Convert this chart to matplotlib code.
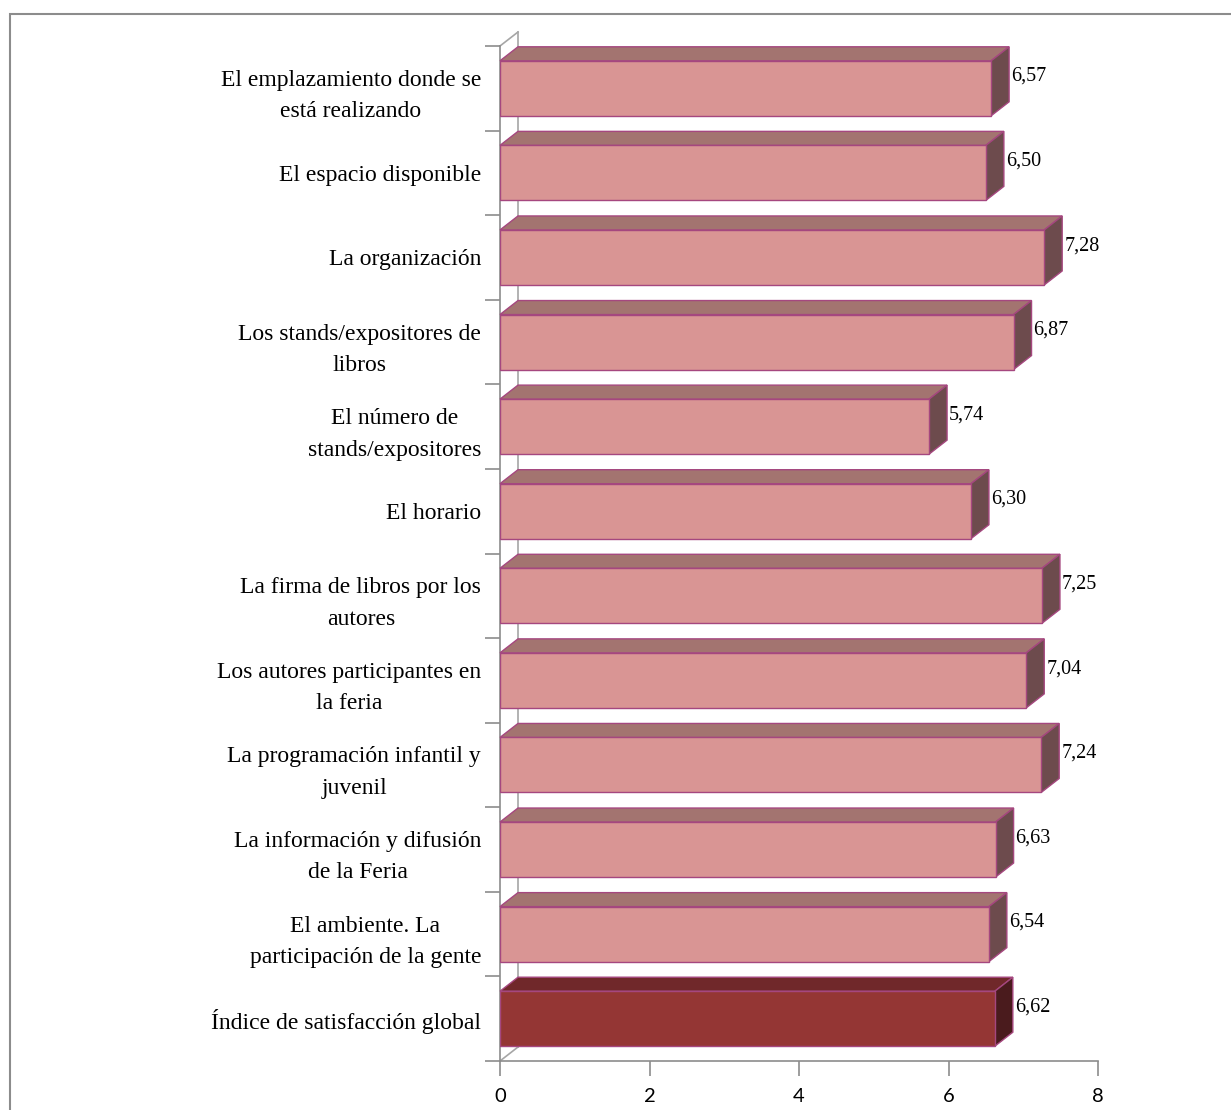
import matplotlib
matplotlib.use("Agg")
import matplotlib.pyplot as plt
from matplotlib.patches import Polygon, Rectangle
from matplotlib.lines import Line2D

categories = [
    "El emplazamiento donde se\nestá realizando",
    "El espacio disponible",
    "La organización",
    "Los stands/expositores de\nlibros",
    "El número de\nstands/expositores",
    "El horario",
    "La firma de libros por los\nautores",
    "Los autores participantes en\nla feria",
    "La programación infantil y\njuvenil",
    "La información y difusión\nde la Feria",
    "El ambiente. La\nparticipación de la gente",
    "Índice de satisfacción global",
]
values = [6.57, 6.50, 7.28, 6.87, 5.74, 6.30, 7.25, 7.04, 7.24, 6.63, 6.54, 6.62]
value_labels = ["6,57", "6,50", "7,28", "6,87", "5,74", "6,30", "7,25", "7,04", "7,24", "6,63", "6,54", "6,62"]
xticks = [0, 2, 4, 6, 8]

W, H = 1231, 1110
fig = plt.figure(figsize=(W / 100, H / 100), dpi=100)
fig.patch.set_facecolor("white")

# axes = front plane
x0, x1 = 500, 1098
y_top, y_bot = 46, 1061
ax = fig.add_axes([x0 / W, 1 - y_bot / H, (x1 - x0) / W, (y_bot - y_top) / H])
n = len(categories)
ax.set_xlim(0, 8)
ax.set_ylim(n - 0.5, -0.5)

# depth in pixels -> data units
dx_px, dy_px = 18, 14
px_per_x = (x1 - x0) / 8.0
px_per_y = (y_bot - y_top) / n
dx = dx_px / px_per_x
dy = -dy_px / px_per_y

bar_h = 55 / px_per_y
edge_col = "#A5477F"
normal = ("#D99594", "#A37470", "#6D4B4D")
highlight = ("#943634", "#70282A", "#4A1B1D")

for i, v in enumerate(values):
    front, top, side = highlight if i == n - 1 else normal
    t = i - bar_h / 2
    b = i + bar_h / 2
    ax.barh(i, v, height=bar_h, color=front, edgecolor=edge_col, linewidth=1.0, zorder=3)
    ax.add_patch(Polygon([(0, t), (v, t), (v + dx, t + dy), (dx, t + dy)],
                         closed=True, facecolor=top, edgecolor=edge_col, lw=1.0,
                         zorder=2.9, clip_on=False))
    ax.add_patch(Polygon([(v, t), (v, b), (v + dx, b + dy), (v + dx, t + dy)],
                         closed=True, facecolor=side, edgecolor=edge_col, lw=1.0,
                         zorder=2.9, clip_on=False))
    ax.annotate(value_labels[i], xy=(v, i), xytext=(14.4, 8.5),
                textcoords="offset points", ha="left", va="center",
                fontsize=14.5, family="Liberation Serif", color="black",
                annotation_clip=False, zorder=5)

# back wall lines
wall_col = "#A6A6A6"
for seg in [([dx, dx], [-0.5 + dy, n - 0.5 + dy]),
            ([0, dx], [-0.5, -0.5 + dy]),
            ([0, dx], [n - 0.5, n - 0.5 + dy])]:
    ax.add_line(Line2D(seg[0], seg[1], color=wall_col, lw=1.2, clip_on=False, zorder=1))

axis_col = "#8C8C8C"
for s in ["top", "right"]:
    ax.spines[s].set_visible(False)
for s in ["left", "bottom"]:
    ax.spines[s].set_color(axis_col)
    ax.spines[s].set_linewidth(1.2)

ax.set_xticks(xticks)
ax.set_xticklabels([str(x) for x in xticks], fontsize=14.5, family="Lato")
ax.tick_params(axis="x", direction="out", length=10.5, width=1.2, color=axis_col, pad=9)

ax.set_yticks(range(n))
ax.set_yticklabels(categories, fontsize=17, family="Liberation Serif")
for lab in ax.get_yticklabels():
    lab.set_multialignment("center")
    lab.set_linespacing(1.65)
ax.tick_params(axis="y", length=0, pad=13.5)
ax.set_yticks([k - 0.5 for k in range(n + 1)], minor=True)
ax.tick_params(axis="y", which="minor", direction="out", length=10.8, width=1.2, color=axis_col)

ax.set_facecolor("none")

# outer chart border
fig.add_artist(Rectangle((10 / W, -0.1), 1.5, 1 - 14 / H + 0.1, transform=fig.transFigure,
                         fill=False, edgecolor="#8C8C8C", lw=1.5))

fig.savefig("out.png", dpi=100)
